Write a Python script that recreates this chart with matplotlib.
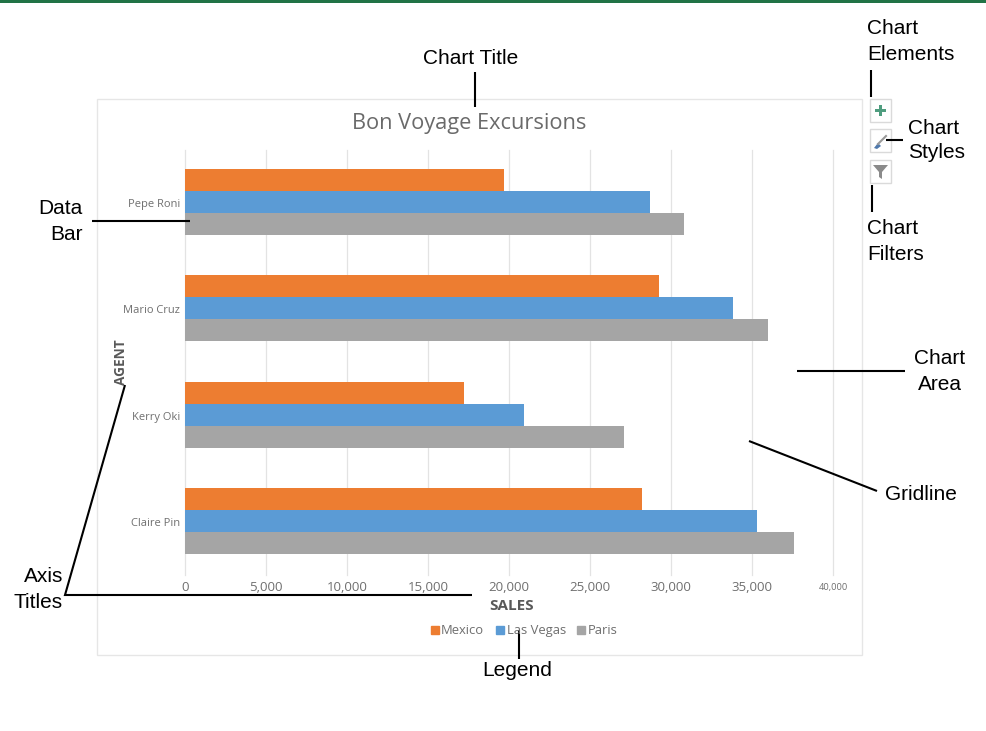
#!/usr/bin/env python3
"""Bar chart with Excel chart-element callouts."""
import matplotlib
matplotlib.use("Agg")
import matplotlib.pyplot as plt
from matplotlib.lines import Line2D
from matplotlib.patches import Polygon, Rectangle

W, H = 987, 731

agents = ["Pepe Roni", "Mario Cruz", "Kerry Oki", "Claire Pin"]
mexico = [19700, 29250, 17200, 28200]
las_vegas = [28700, 33800, 20900, 35300]
paris = [30800, 36000, 27100, 37600]
series_names = ["Mexico", "Las Vegas", "Paris"]
series_colors = ["#ED7D31", "#5B9BD5", "#A5A5A5"]
x_ticks = [0, 5000, 10000, 15000, 20000, 25000, 30000, 35000, 40000]

CHART_FONT = "Open Sans"
LABEL_FONT = "Liberation Sans"
GREY = "#6f6f6f"

fig = plt.figure(figsize=(W / 100, H / 100), dpi=100, facecolor="white")

# overlay in pixel coords for the callouts, chart frame and icons
bg = fig.add_axes([0, 0, 1, 1], zorder=0)
bg.set_xlim(0, W)
bg.set_ylim(H, 0)
bg.axis("off")
bg.add_patch(Rectangle((0, 0), W, 3, fc="#217346", ec="none"))
bg.add_patch(Rectangle((97, 99), 765, 556, fc="white", ec="#e6e6e6", lw=1))

# the chart itself
ax = fig.add_axes([185 / W, 1 - 575 / H, (833 - 185) / W, (575 - 150) / H], zorder=1)
ax.patch.set_alpha(0)
bar_h = 0.2075
for i, (vals, name, col) in enumerate(zip([mexico, las_vegas, paris], series_names, series_colors)):
    ypos = [k + (i - 1) * bar_h - 0.009 for k in range(len(agents))]
    ax.barh(ypos, vals, height=bar_h, color=col, label=name, zorder=2)
ax.set_xlim(0, 40000)
ax.set_ylim(3.5, -0.5)
ax.set_xticks(x_ticks)
ax.set_xticklabels([f"{v:,}" for v in x_ticks], fontname=CHART_FONT, fontsize=9.5, color=GREY, va="center")
ax.get_xticklabels()[-1].set_fontsize(6.7)
ax.set_yticks(range(len(agents)))
ax.set_yticklabels(agents, fontname=CHART_FONT, fontsize=8, color=GREY)
ax.tick_params(axis="y", length=0, pad=3.5)
ax.tick_params(axis="x", length=0, pad=9)
ax.grid(axis="x", color="#e3e3e3", lw=0.9, zorder=0)
for gl in ax.get_xgridlines():
    gl.set_clip_on(False)
for s in ax.spines.values():
    s.set_visible(False)

fig.text(469 / W, 1 - 124 / H, "Bon Voyage Excursions", fontname=CHART_FONT, fontsize=15.7,
         color="#6a6a6a", ha="center", va="center")
fig.text(121 / W, 1 - 362 / H, "AGENT", fontname=CHART_FONT, fontsize=9.8, fontweight="bold",
         color="#595959", rotation=90, ha="center", va="center")
fig.text(512 / W, 1 - 606 / H, "SALES", fontname=CHART_FONT, fontsize=11, fontweight="bold",
         color="#595959", ha="center", va="center")

handles, labels = ax.get_legend_handles_labels()
leg_handles = [Line2D([], [], ls="", marker="s", ms=5.5, color=c) for c in series_colors]
leg = fig.legend(leg_handles, labels, loc="center", bbox_to_anchor=(523 / W, 1 - 631 / H), ncol=3,
                 frameon=False, handletextpad=0.0, columnspacing=0.7, handlelength=1,
                 prop={"family": CHART_FONT, "size": 9.4}, labelcolor=GREY)
leg.get_texts()[1].set_y(0.8)  # the deep g pushes this label down otherwise

# overlay above the chart for leader lines and labels
top = fig.add_axes([0, 0, 1, 1], zorder=2)
top.set_xlim(0, W)
top.set_ylim(H, 0)
top.axis("off")
top.patch.set_alpha(0)

# icon buttons
for y0 in [99, 129, 160]:
    top.add_patch(Rectangle((869.5, y0), 21, 23, fc="white", ec="#dadada", lw=1))
top.add_patch(Rectangle((875, 109), 11, 3.4, fc="#4f9d7f", ec="none"))
top.add_patch(Rectangle((878.8, 105), 3.4, 11, fc="#4f9d7f", ec="none"))
top.add_patch(Polygon([(874, 148), (878, 143), (881, 146), (877, 149)], fc="#4f79ad", ec="none"))
top.plot([878, 886], [144, 136], color="#9a9a9a", lw=1.5)
top.add_patch(Polygon([(873, 165), (888, 165), (882, 172), (882, 179), (879, 177), (879, 172)],
                      fc="#8a8a8a", ec="none"))

leaders = [
    ([475, 475], [72, 107]),
    ([92, 190], [221, 221]),
    ([871, 871], [70, 97]),
    ([886, 903], [140, 140]),
    ([872, 872], [185, 212]),
    ([797, 905], [371, 371]),
    ([749, 877], [441, 491]),
    ([125, 65, 472], [385, 595, 595]),
    ([519, 519], [630, 659]),
]
for xs, ys in leaders:
    top.plot(xs, ys, color="black", lw=1.5, solid_capstyle="butt", solid_joinstyle="miter")

# text, x, y, ha
callouts = [
    ("Chart Title", 471, 59, "center"),
    ("Chart", 867, 29, "left"),
    ("Elements", 867, 55, "left"),
    ("Chart", 908, 128, "left"),
    ("Styles", 908, 153, "left"),
    ("Chart", 867, 229, "left"),
    ("Filters", 867, 255, "left"),
    ("Data", 83, 208, "right"),
    ("Bar", 83, 234, "right"),
    ("Chart", 940, 358, "center"),
    ("Area", 940, 384, "center"),
    ("Gridline", 921, 494, "center"),
    ("Axis", 63, 576, "right"),
    ("Titles", 63, 602, "right"),
    ("Legend", 517, 670, "center"),
]
for txt, x, y, ha in callouts:
    top.text(x, y, txt, fontname=LABEL_FONT, fontsize=15, color="black", ha=ha, va="center")

fig.savefig("out.png", dpi=100)
